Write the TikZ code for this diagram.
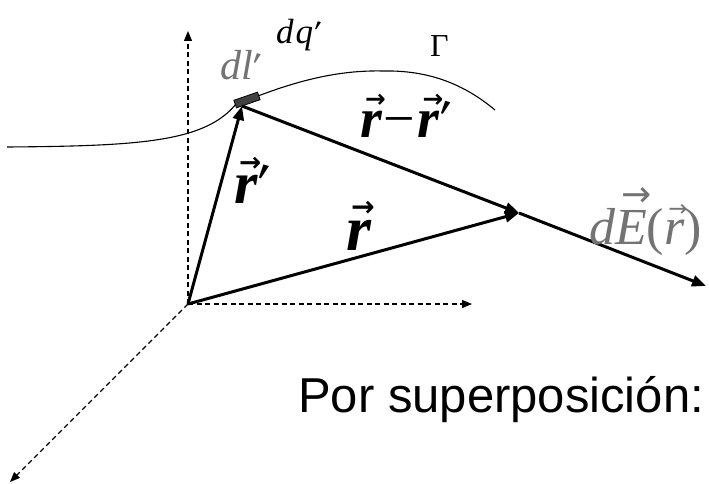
\documentclass[tikz,border=0pt]{standalone}
\usepackage{fontspec}
\usepackage{graphicx}
\setmainfont{Liberation Serif}
\newfontfamily\sansf{Liberation Sans}
\newfontfamily\dejavu{DejaVu Sans}
\usetikzlibrary{arrows.meta}
% vector arrow over a glyph: #1 = horizontal shift, #2 = glyph
\newcommand\ovec[2][0pt]{\setbox0\hbox{#2}\rlap{\kern#1\raisebox{\dimexpr\ht0+0.06em\relax}{\resizebox{0.95\wd0}{!}{\dejavu\char"2192}}}\box0}
\newcommand\prm{\setbox2\hbox{\mdseries\textquotesingle}\makebox[\wd2][c]{\rotatebox[origin=c]{-16}{\box2}}}
\begin{document}
\begin{tikzpicture}[x=1pt,y=-1pt,
  axis/.style={line width=1.2pt, dash pattern=on 5pt off 3.5pt, -{Triangle[length=10pt,width=8pt]}},
  vecline/.style={line width=3pt, -{Triangle[length=14pt,width=11pt]}},
  curveline/.style={line width=1.1pt},
  mathlbl/.style={inner sep=0pt, anchor=base west},
  graytxt/.style={text=black!55},
]
\useasboundingbox (0,0) rectangle (709,484);
% points
\coordinate (O) at (188,304);
\coordinate (zt) at (188,31);
\coordinate (xt) at (472,304);
\coordinate (yt) at (10,482);
\coordinate (P) at (519,213);
\coordinate (Q) at (242,106);
\coordinate (Et) at (706,286);
\coordinate (c0) at (7,147);
\coordinate (c1) at (236,104);
\coordinate (c2) at (258,96);
\coordinate (c3) at (383,71);
\coordinate (c4) at (495,110);
% axes
\draw[axis] (O) -- (zt);
\draw[axis] (O) -- (xt);
\draw[axis] (O) -- (yt);
% curve Gamma
\draw[curveline] (c0) .. controls (140,146) and (205,142) .. (c1);
\draw[curveline] (c2) .. controls (300,80) and (340,70) .. (c3)
                      .. controls (430,70) and (465,85) .. (c4);
% element dl'
\node[draw=black, fill=black!75, line width=0.8pt, minimum width=25pt, minimum height=8pt, inner sep=0pt, rotate=19] (elem) at (247,100) {};
% vectors
\draw[vecline] (O) -- (Q);
\draw[vecline] (O) -- (P);
\draw[vecline] (Q) -- (P);
\draw[vecline] (P) -- (Et);
% labels
\node[mathlbl, graytxt, font=\fontsize{42}{42}\selectfont\itshape] (ldl) at (220,80) {dl\prm};
\node[mathlbl, font=\fontsize{35}{35}\selectfont\itshape] (ldq) at (276,44) {d\kern2pt q\kern1pt\prm};
\node[mathlbl, font=\fontsize{32}{32}\selectfont] (lgam) at (430,57) {Γ};
\node[mathlbl, font=\fontsize{56}{56}\selectfont\bfseries\itshape] (lrr) at (360,137) {\ovec[5pt]{r}\kern2pt{\mdseries\upshape −}\kern2pt\ovec[5pt]{r}\prm};
\node[mathlbl, font=\fontsize{60}{60}\selectfont\bfseries\itshape] (lrp) at (234,203) {\ovec[5pt]{r}\prm};
\node[mathlbl, font=\fontsize{64}{64}\selectfont\bfseries\itshape] (lr) at (346,250) {\ovec[5pt]{r}};
\node[mathlbl, graytxt, font=\fontsize{52}{52}\selectfont\itshape] (ldE) at (589,244) {d\ovec[6pt]{E}{\upshape(}\ovec[4pt]{r}{\upshape)}};
\node[mathlbl, font=\sansf\fontsize{49}{49}\selectfont] (lsup) at (298,412) {Por superposición:};
\end{tikzpicture}
\end{document}
